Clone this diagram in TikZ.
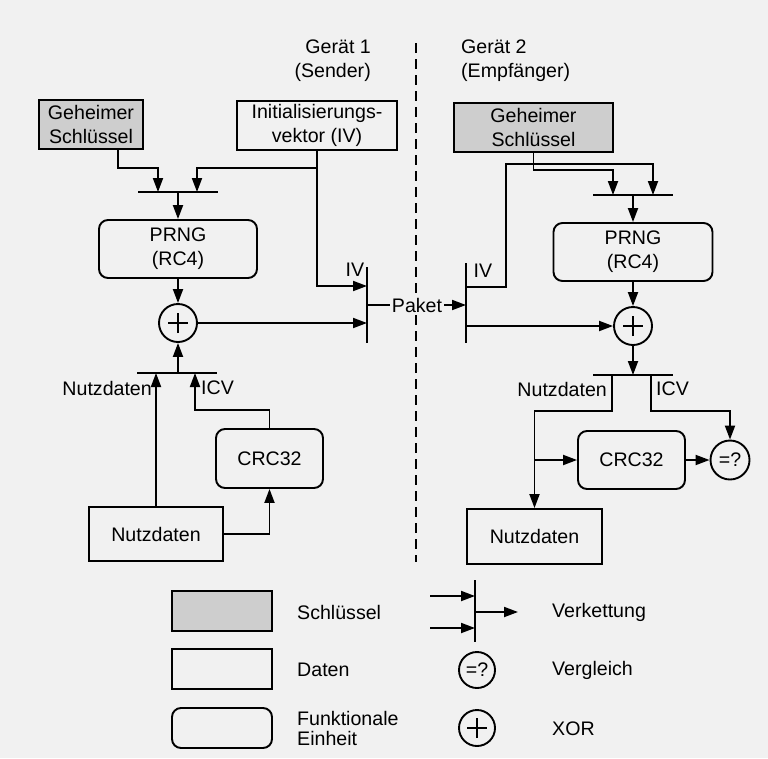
\documentclass[tikz,border=0pt]{standalone}
\usepackage{fontspec}
\setmainfont{Liberation Sans}
\usetikzlibrary{arrows.meta}
\definecolor{bg}{RGB}{241,241,241}
\definecolor{keygray}{RGB}{206,206,206}
\begin{document}
\begin{tikzpicture}[x=1pt,y=-1pt,
  every node/.style={font=\fontsize{19.6}{24}\selectfont, inner sep=0pt},
  plain/.style={line width=1.9pt},
  conn/.style={line width=1.9pt, -{Triangle[length=14pt,width=10pt]}},
  keybox/.style={draw, line width=1.9pt, fill=keygray, align=center},
  databox/.style={draw, line width=1.9pt, fill=bg, align=center},
  funcbox/.style={draw, line width=1.9pt, rounded corners=9pt, fill=bg, align=center},
  xorc/.style={circle, draw, line width=1.9pt, fill=bg, minimum size=38pt,
    path picture={\draw[line width=1.9pt] ([xshift=-10pt]path picture bounding box.center) -- ([xshift=10pt]path picture bounding box.center);
                  \draw[line width=1.9pt] ([yshift=-10pt]path picture bounding box.center) -- ([yshift=10pt]path picture bounding box.center);}},
  cmpc/.style={circle, draw, line width=1.9pt, fill=bg, minimum size=39pt},
  lbl/.style={inner sep=0pt}
]
\fill[bg] (0,0) rectangle (768,758);
\useasboundingbox (0,0) rectangle (768,758);

% headings and divider
\node[lbl, align=right, anchor=east] (g1) at (371,61) {Gerät 1\\(Sender)};
\node[lbl, align=left, anchor=west] (g2) at (461,61) {Gerät 2\\(Empfänger)};
\coordinate (dtop) at (416,43);
\coordinate (dbot) at (416,562);
\draw[line width=1.9pt, dash pattern=on 10pt off 6pt] (dtop) -- (dbot);

% ---------------- sender ----------------
\node[keybox, minimum width=104, minimum height=49] (k1) at (91,124.5) {Geheimer\\Schlüssel};
\node[databox, minimum width=160, minimum height=49] (iv1) at (317,125.5) {Initialisierungs-\\vektor (IV)};
\coordinate (b1l) at (138,192); \coordinate (b1r) at (218,192);
\coordinate (b1a) at (158,192); \coordinate (b1b) at (197,192); \coordinate (b1c) at (178,192);
\draw[plain] (b1l) -- (b1r);
\draw[conn] ([xshift=27pt]k1.south) |- ([yshift=24pt]b1a) -- (b1a);
\draw[conn] (iv1.south) |- ([yshift=24pt]b1b) -- (b1b);
\node[funcbox, minimum width=158, minimum height=58] (prng1) at (178,249) {PRNG\\(RC4)};
\draw[conn] (b1c) -- (prng1.north);
\node[xorc] (xor1) at (178,323) {};
\draw[conn] (prng1) -- (xor1);

\coordinate (p1t) at (367,267); \coordinate (p1b) at (367,343);
\coordinate (p1iv) at (367,286); \coordinate (p1o) at (367,305);
\draw[plain] (p1t) -- (p1b);
\draw[conn] (iv1.south) |- (p1iv);
\node[lbl] (iv1l) at (355,270) {IV};
\draw[conn] (xor1.east) -- (xor1.east -| p1t);

\coordinate (b3l) at (137,373); \coordinate (b3r) at (217,373);
\coordinate (b3b) at (195,373); \coordinate (b3c) at (178,373);
\draw[plain] (b3l) -- (b3r);
\draw[conn] (b3c) -- (xor1.south);
\node[funcbox, minimum width=107, minimum height=59] (crc1) at (269.5,458.5) {CRC32};
\node[databox, minimum width=134, minimum height=54] (nd1) at (156,534) {Nutzdaten};
\draw[conn] (nd1.north) -- (nd1.north |- b3c);
\draw[conn] (crc1.north) |- ([yshift=-37pt]b3b) -- (b3b);
\draw[conn] (nd1.east) -| (crc1.south);
\node[lbl, anchor=east] (nd1l) at (152,388) {Nutzdaten};
\node[lbl, anchor=west] (icv1l) at (201,388) {ICV};

% ---------------- packet ----------------
\node[fill=bg, inner sep=2pt] (paket) at (417,305) {Paket};
\coordinate (p2t) at (466,263); \coordinate (p2b) at (466,343);
\coordinate (p2iv) at (466,287);
\draw[plain] (p1o) -- (paket.west);
\draw[conn] (paket.east) -- (paket.east -| p2t);

% ---------------- receiver ----------------
\draw[plain] (p2t) -- (p2b);
\node[lbl] (iv2l) at (483,271) {IV};
\node[keybox, minimum width=159, minimum height=49] (k2) at (533.5,127.5) {Geheimer\\Schlüssel};
\coordinate (b2l) at (593,195); \coordinate (b2r) at (673,195);
\coordinate (b2a) at (613,195); \coordinate (b2b) at (653,195); \coordinate (b2c) at (633,195);
\draw[plain] (b2l) -- (b2r);
\draw[conn] (k2.south) |- ([yshift=25pt]b2a) -- (b2a);
\coordinate (ivk) at (506,164);
\draw[conn] (p2iv) -| (ivk) -| (b2b);
\node[funcbox, minimum width=159, minimum height=58] (prng2) at (633,252) {PRNG\\(RC4)};
\draw[conn] (b2c) -- (prng2.north);
\node[xorc] (xor2) at (633,326) {};
\draw[conn] (prng2) -- (xor2);
\draw[conn] (xor2.west -| p2t) -- (xor2.west);

\coordinate (b4l) at (593,375); \coordinate (b4r) at (673,375);
\coordinate (b4a) at (612,375); \coordinate (b4b) at (651,375); \coordinate (b4c) at (633,375);
\draw[plain] (b4l) -- (b4r);
\draw[conn] (xor2.south) -- (b4c);
\node[databox, minimum width=135, minimum height=55] (nd2) at (534.5,536.5) {Nutzdaten};
\node[funcbox, minimum width=107, minimum height=58] (crc2) at (631.5,460) {CRC32};
\node[cmpc] (cmp) at (730,460) {=?};
\coordinate (j) at (534.5,411);
\draw[conn] (b4a) |- (j) -- (nd2.north);
\draw[conn] (crc2.west -| j) -- (crc2.west);
\draw[conn] (b4b) |- (cmp.north |- j) -- (cmp.north);
\draw[conn] (crc2) -- (cmp);
\node[lbl, anchor=east] (nd2l) at (607,389) {Nutzdaten};
\node[lbl, anchor=west] (icv2l) at (656,389) {ICV};

% ---------------- legend ----------------
\node[keybox, minimum width=100, minimum height=40] (lk) at (222,611) {};
\node[databox, minimum width=100, minimum height=40] (ld) at (222,669) {};
\node[funcbox, minimum width=100, minimum height=40] (lf) at (222,728) {};
\node[lbl, anchor=west] (lkt) at (297,612) {Schlüssel};
\node[lbl, anchor=west] (ldt) at (297,670) {Daten};
\node[lbl, anchor=west, align=left, font=\fontsize{19.6}{20}\selectfont] (lft) at (297,728) {Funktionale\\Einheit};

\coordinate (vt) at (475,580); \coordinate (vb) at (475,642);
\coordinate (va) at (430,596); \coordinate (vc) at (430,628);
\coordinate (vo) at (518,612);
\draw[plain] (vt) -- (vb);
\draw[conn] (va) -- (va -| vt);
\draw[conn] (vc) -- (vc -| vt);
\draw[conn] (vo -| vt) -- (vo);
\node[lbl, anchor=west] (lvt) at (552,612) {Verkettung};
\node[cmpc, minimum size=36pt] (lcmp) at (477,670) {=?};
\node[lbl, anchor=west] (lcmpt) at (552,670) {Vergleich};
\node[xorc, minimum size=36pt] (lxor) at (477,728) {};
\node[lbl, anchor=west] (lxort) at (552,729) {XOR};
\end{tikzpicture}
\end{document}
